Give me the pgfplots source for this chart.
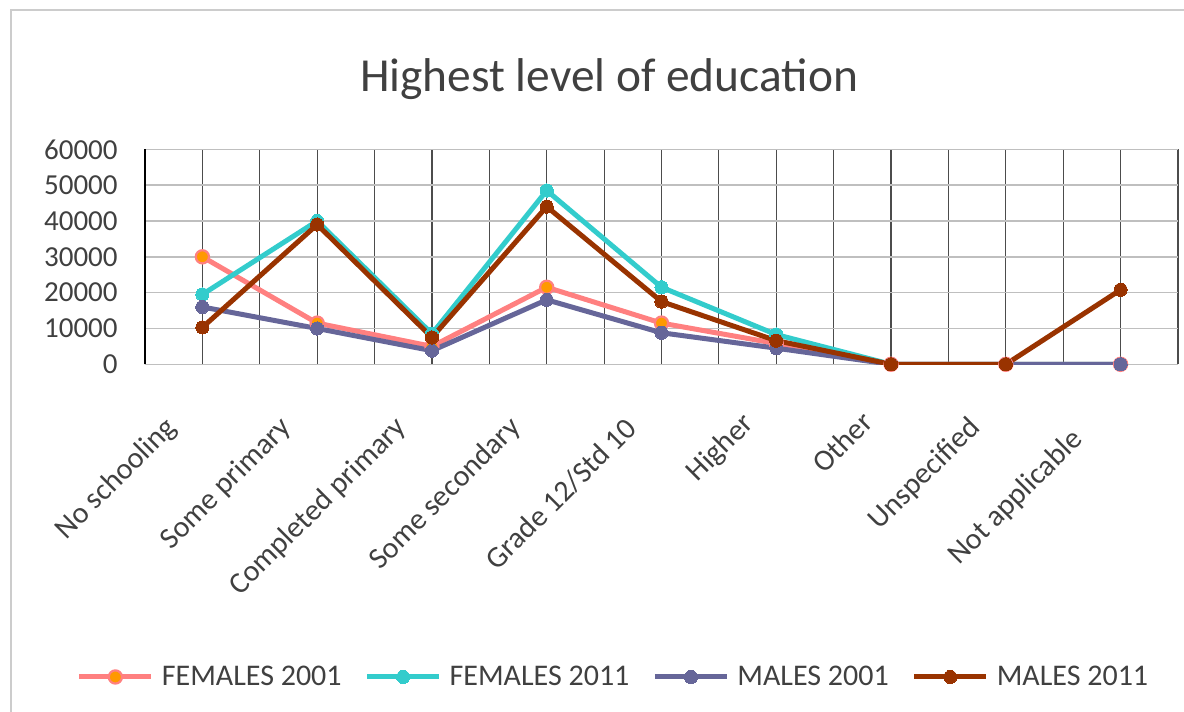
\documentclass[border=0pt]{standalone}
\usepackage{fontspec}
\setmainfont{Carlito}
\usepackage{pgfplots}
\pgfplotsset{compat=1.18}
\definecolor{cFa}{HTML}{FF8080}
\definecolor{cFaMark}{HTML}{FF9900}
\definecolor{cFb}{HTML}{33CCCC}
\definecolor{cMa}{HTML}{666699}
\definecolor{cMb}{HTML}{993300}
\definecolor{txt}{HTML}{404040}
\begin{document}
\begin{tikzpicture}
\path[use as bounding box] (0,0) rectangle (592pt,-356pt);
\draw[color=black!20, line width=0.8pt] (5.5pt,-400pt) -- (5.5pt,-5pt) -- (650pt,-5pt);
\node[anchor=base, font=\fontsize{23.7}{28}\selectfont, text=txt, inner sep=0pt] at (304.5pt,-45.5pt) {Highest level of education};
\begin{axis}[
  at={(72.5pt,-182.15pt)}, anchor=south west,
  scale only axis, width=516.5pt, height=107.5pt,
  xmin=-0.5, xmax=8.5, ymin=0, ymax=60000,
  xtick={0,...,8},
  xticklabels={No schooling, Some primary, Completed primary, Some secondary, Grade 12/Std 10, Higher\kern-2.5pt, Other\kern-4.5pt, Unspecified, Not applicable\kern8.5pt},
  minor xtick={-0.5,0.5,...,8.5},
  ytick={0,10000,...,60000},
  scaled y ticks=false,
  xmajorgrids, xminorgrids, ymajorgrids,
  major x grid style={draw=black!70, line width=0.6pt},
  minor x grid style={draw=black!70, line width=0.6pt},
  major y grid style={draw=black!25, line width=0.75pt},
  tick style={draw=none},
  axis x line*=bottom, axis y line*=left,
  axis line style={-},
  x axis line style={draw=black!25, line width=0.75pt},
  y axis line style={draw=black, line width=0.6pt},
  ticklabel style={font=\fontsize{14.5}{17}\selectfont, text=txt},
  xticklabel style={font=\fontsize{15}{18}\selectfont},
  yticklabel style={/pgf/number format/1000 sep={}, /pgf/number format/assume math mode=true, anchor=east, inner sep=0pt, xshift=-13.5pt},
  xticklabel style={xshift=-15pt, yshift=-29.5pt, rotate=45, anchor=east, inner sep=0pt},
  legend columns=4,
  legend style={at={(0.4526,-1.4544)}, anchor=center, draw=none, fill=none, inner sep=0pt,
    font=\fontsize{15}{18}\selectfont, text=txt,
    nodes={inner sep=0pt},
    /tikz/every odd column/.append style={column sep=4pt},
    /tikz/every even column/.append style={column sep=11.5pt}},
  legend image code/.code={\draw[mark repeat=2,mark phase=2,#1] plot coordinates {(0pt,0pt) (18pt,0pt) (36pt,0pt)};},
  every axis plot/.append style={line width=2.5pt, mark=*, mark size=3.3pt},
]
\addplot[color=cFa, mark options={fill=cFaMark, draw=cFa, line width=1.1pt}] coordinates {
  (0,30000) (1,11500) (2,5000) (3,21500) (4,11500) (5,5800) (6,0) (7,0) (8,0)};
\addlegendentry{FEMALES 2001}
\addplot[color=cFb, mark options={fill=cFb, draw=cFb, line width=0pt}] coordinates {
  (0,19500) (1,40000) (2,8500) (3,48500) (4,21500) (5,8300) (6,0) (7,0) (8,0)};
\addlegendentry{FEMALES 2011}
\addplot[color=cMa, mark options={fill=cMa, draw=cMa, line width=0pt}] coordinates {
  (0,16000) (1,10000) (2,3800) (3,18000) (4,8800) (5,4500) (6,0) (7,0) (8,0)};
\addlegendentry{MALES 2001}
\addplot[color=cMb, mark options={fill=cMb, draw=cMb, line width=0pt}] coordinates {
  (0,10300) (1,39000) (2,7500) (3,44000) (4,17500) (5,6600) (6,0) (7,0) (8,20800)};
\addlegendentry{MALES 2011}
\end{axis}
\end{tikzpicture}
\end{document}
